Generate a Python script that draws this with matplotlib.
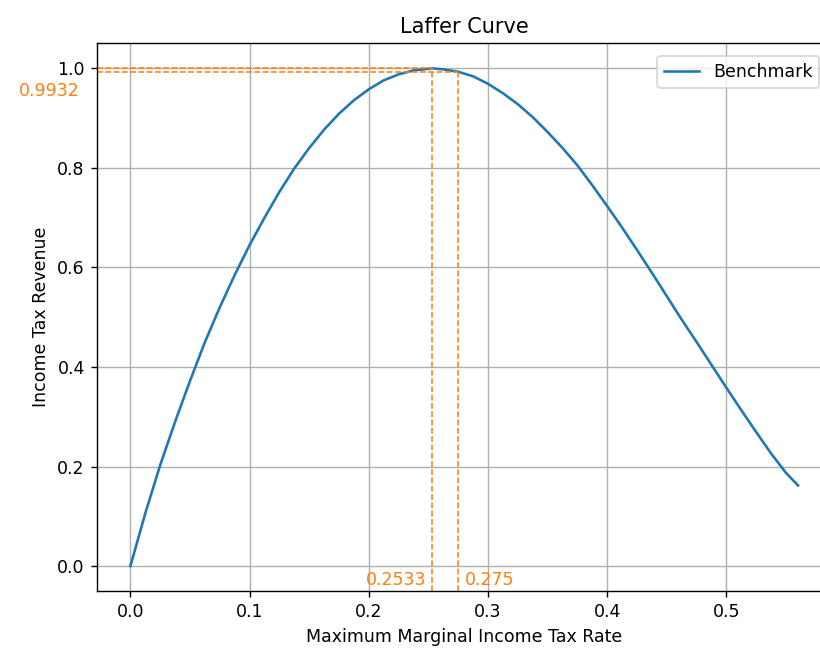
import matplotlib as mpl
mpl.use('agg')
import matplotlib.pyplot as plt
import numpy as np

# tax rate grid and normalised revenue (benchmark economy)
tax_rate = [0.0, 0.0125, 0.025, 0.0375, 0.05, 0.0625, 0.075, 0.0875, 0.1,
            0.1125, 0.125, 0.1375, 0.15, 0.1625, 0.175, 0.1875, 0.2, 0.2125,
            0.225, 0.2375, 0.2533, 0.2625, 0.275, 0.2875, 0.3, 0.3125, 0.325,
            0.3375, 0.35, 0.3625, 0.375, 0.3875, 0.4, 0.4125, 0.425, 0.4375,
            0.45, 0.4625, 0.475, 0.4875, 0.5, 0.5125, 0.525, 0.5375, 0.55,
            0.56]
revenue = [0.0, 0.106, 0.203, 0.290, 0.372, 0.450, 0.520, 0.585, 0.645,
           0.700, 0.752, 0.799, 0.840, 0.877, 0.909, 0.936, 0.958, 0.976,
           0.988, 0.996, 1.0, 0.998, 0.9932, 0.984, 0.969, 0.950, 0.928,
           0.902, 0.872, 0.840, 0.805, 0.765, 0.723, 0.680, 0.635, 0.589,
           0.542, 0.495, 0.450, 0.404, 0.358, 0.313, 0.269, 0.226, 0.187,
           0.162]

# revenue-maximising rate and the current top rate
peak_rate = 0.2533
peak_rev = 1.0
actual_rate = 0.275
actual_rev = 0.9932


def PlotLaffer(x, y, filename:str):
    fig = plt.figure(figsize=(6.56, 5.256), dpi=125)
    ax = fig.add_axes([0.1183, 0.1005, 0.8956, 0.8333])

    ax.plot(x, y, label='Benchmark')
    ax.set_xlim(-0.028, 0.588)
    ax.set_ylim(-0.05, 1.05)
    x0 = ax.get_xlim()[0]
    y0 = ax.get_ylim()[0]

    # dashed guides to the peak and to the current rate
    for rx, ry in [(peak_rate, peak_rev), (actual_rate, actual_rev)]:
        ax.hlines(ry, x0, rx, colors='C1', linestyles='--', linewidth=0.9)
        ax.vlines(rx, y0, ry, colors='C1', linestyles='--', linewidth=0.9)

    ax.annotate('%.4g' % peak_rate, xy=(peak_rate, y0), xytext=(-3.5, 6.4),
                textcoords='offset points', ha='right', va='center', color='C1')
    ax.annotate('%.4g' % actual_rate, xy=(actual_rate, y0), xytext=(4, 6.4),
                textcoords='offset points', ha='left', va='center', color='C1')
    ax.annotate('%.4g' % actual_rev, xy=(0, actual_rev),
                xycoords=('axes fraction', 'data'), xytext=(-9.8, -11),
                textcoords='offset points', ha='right', va='center', color='C1')

    ax.grid(True)
    ax.set_title('Laffer Curve')
    ax.set_xlabel('Maximum Marginal Income Tax Rate')
    ax.set_ylabel('Income Tax Revenue')
    ax.legend(loc='upper right', borderaxespad=0.7)

    fig.savefig(filename)


if __name__ == '__main__':
    PlotLaffer(tax_rate, revenue, 'out.png')
